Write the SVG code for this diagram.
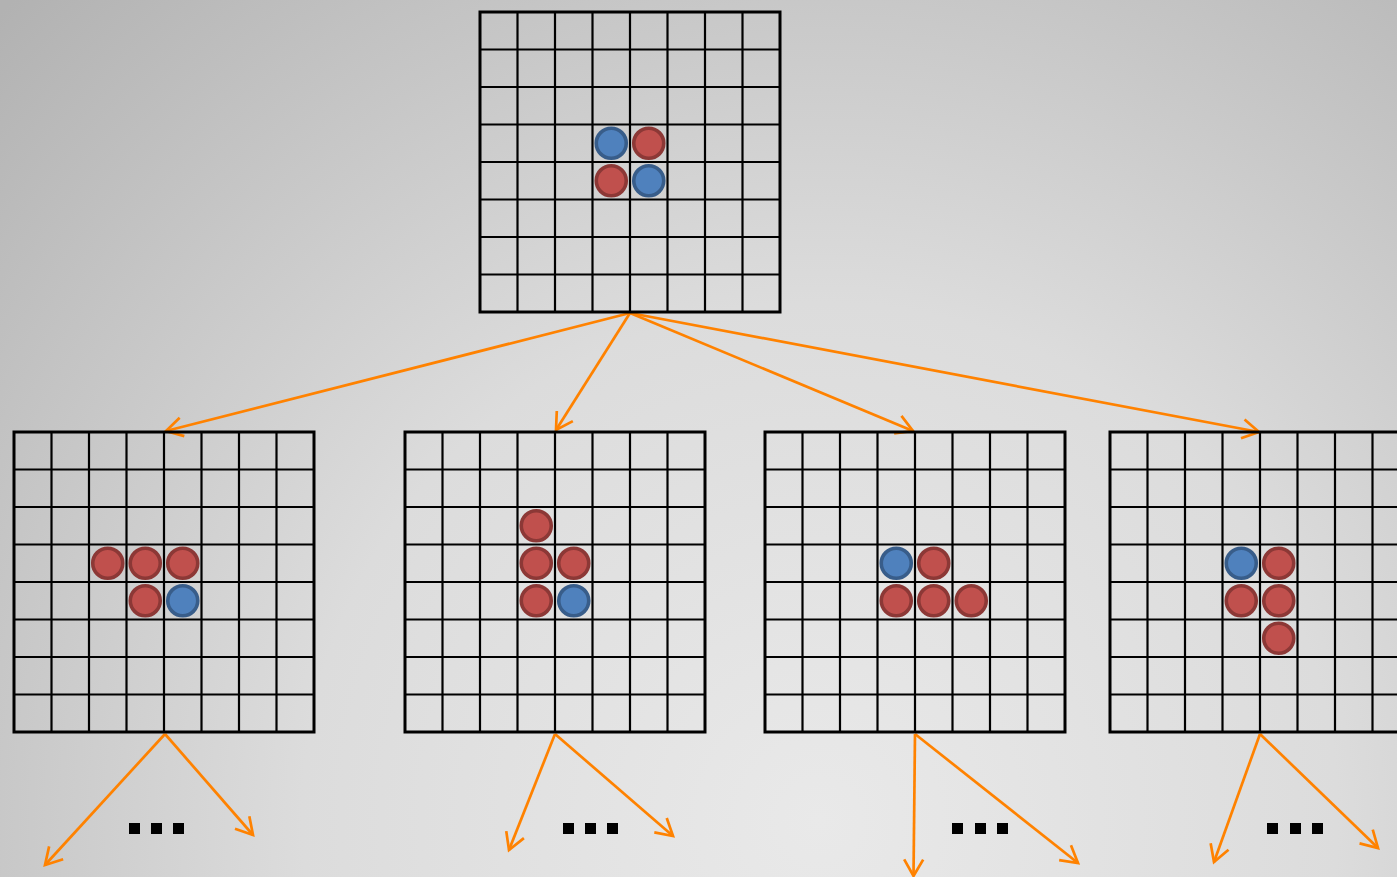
<svg xmlns="http://www.w3.org/2000/svg" xmlns:xlink="http://www.w3.org/1999/xlink" width="1397" height="877" viewBox="0 0 1397 877">
<style>
.grid line{stroke:#000;stroke-width:2.2}
.frame{fill:none;stroke:#000;stroke-width:3}
.red{fill:#C0504D;stroke:#8C3836;stroke-width:3.6}
.blue{fill:#4F81BD;stroke:#385D8A;stroke-width:3.6}
.conn line{stroke:#FF8200;stroke-width:2.7;marker-end:url(#ah)}
.dots rect{fill:#000}
</style>
<defs>
<radialGradient id="bg" gradientUnits="userSpaceOnUse" cx="820" cy="820" r="1150">
<stop offset="0" stop-color="#e9e9e9"/>
<stop offset="0.45" stop-color="#dcdcdc"/>
<stop offset="1" stop-color="#b2b2b2"/>
</radialGradient>
<marker id="ah" markerUnits="userSpaceOnUse" markerWidth="24" markerHeight="24" viewBox="0 0 24 24" refX="18.5" refY="12" orient="auto">
<path d="M2,2.5 L18.5,12 L2,21.5" fill="none" stroke="#FF8200" stroke-width="2.7"/>
</marker>
<g id="grid" class="grid">
<line x1="37.5" y1="0" x2="37.5" y2="300"/>
<line x1="75" y1="0" x2="75" y2="300"/>
<line x1="112.5" y1="0" x2="112.5" y2="300"/>
<line x1="150" y1="0" x2="150" y2="300"/>
<line x1="187.5" y1="0" x2="187.5" y2="300"/>
<line x1="225" y1="0" x2="225" y2="300"/>
<line x1="262.5" y1="0" x2="262.5" y2="300"/>
<line x1="0" y1="37.5" x2="300" y2="37.5"/>
<line x1="0" y1="75" x2="300" y2="75"/>
<line x1="0" y1="112.5" x2="300" y2="112.5"/>
<line x1="0" y1="150" x2="300" y2="150"/>
<line x1="0" y1="187.5" x2="300" y2="187.5"/>
<line x1="0" y1="225" x2="300" y2="225"/>
<line x1="0" y1="262.5" x2="300" y2="262.5"/>
<rect class="frame" x="0" y="0" width="300" height="300"/>
</g>
</defs>
<rect x="0" y="0" width="1397" height="877" fill="url(#bg)"/>

<g id="connectors" class="conn">
<line x1="630" y1="313" x2="166" y2="431"/>
<line x1="630" y1="313" x2="556" y2="430"/>
<line x1="630" y1="313" x2="913" y2="431"/>
<line x1="630" y1="313" x2="1259" y2="432"/>
<line x1="165" y1="734" x2="45" y2="865"/>
<line x1="165" y1="734" x2="253" y2="835"/>
<line x1="555" y1="734" x2="509" y2="850"/>
<line x1="555" y1="734" x2="673" y2="836"/>
<line x1="915" y1="734" x2="913.5" y2="876"/>
<line x1="915" y1="734" x2="1078" y2="863"/>
<line x1="1260" y1="734" x2="1214" y2="862"/>
<line x1="1260" y1="734" x2="1378" y2="848"/>
</g>

<g id="board-root" transform="translate(480,12)">
<use xlink:href="#grid" href="#grid"/>
<circle class="blue" cx="131.25" cy="131.25" r="15"/>
<circle class="red" cx="168.75" cy="131.25" r="15"/>
<circle class="red" cx="131.25" cy="168.75" r="15"/>
<circle class="blue" cx="168.75" cy="168.75" r="15"/>
</g>

<g id="board-1" transform="translate(14,432)">
<use xlink:href="#grid" href="#grid"/>
<circle class="red" cx="93.75" cy="131.25" r="15"/>
<circle class="red" cx="131.25" cy="131.25" r="15"/>
<circle class="red" cx="168.75" cy="131.25" r="15"/>
<circle class="red" cx="131.25" cy="168.75" r="15"/>
<circle class="blue" cx="168.75" cy="168.75" r="15"/>
</g>

<g id="board-2" transform="translate(405,432)">
<use xlink:href="#grid" href="#grid"/>
<circle class="red" cx="131.25" cy="93.75" r="15"/>
<circle class="red" cx="131.25" cy="131.25" r="15"/>
<circle class="red" cx="168.75" cy="131.25" r="15"/>
<circle class="red" cx="131.25" cy="168.75" r="15"/>
<circle class="blue" cx="168.75" cy="168.75" r="15"/>
</g>

<g id="board-3" transform="translate(765,432)">
<use xlink:href="#grid" href="#grid"/>
<circle class="blue" cx="131.25" cy="131.25" r="15"/>
<circle class="red" cx="168.75" cy="131.25" r="15"/>
<circle class="red" cx="131.25" cy="168.75" r="15"/>
<circle class="red" cx="168.75" cy="168.75" r="15"/>
<circle class="red" cx="206.25" cy="168.75" r="15"/>
</g>

<g id="board-4" transform="translate(1110,432)">
<use xlink:href="#grid" href="#grid"/>
<circle class="blue" cx="131.25" cy="131.25" r="15"/>
<circle class="red" cx="168.75" cy="131.25" r="15"/>
<circle class="red" cx="131.25" cy="168.75" r="15"/>
<circle class="red" cx="168.75" cy="168.75" r="15"/>
<circle class="red" cx="168.75" cy="206.25" r="15"/>
</g>

<g id="ellipses" class="dots">
<rect x="129" y="823" width="11" height="11"/>
<rect x="151" y="823" width="11" height="11"/>
<rect x="173" y="823" width="11" height="11"/>
<rect x="563" y="823" width="11" height="11"/>
<rect x="585" y="823" width="11" height="11"/>
<rect x="607" y="823" width="11" height="11"/>
<rect x="952" y="823" width="11" height="11"/>
<rect x="975" y="823" width="11" height="11"/>
<rect x="997" y="823" width="11" height="11"/>
<rect x="1267" y="823" width="11" height="11"/>
<rect x="1290" y="823" width="11" height="11"/>
<rect x="1312" y="823" width="11" height="11"/>
</g>
</svg>
